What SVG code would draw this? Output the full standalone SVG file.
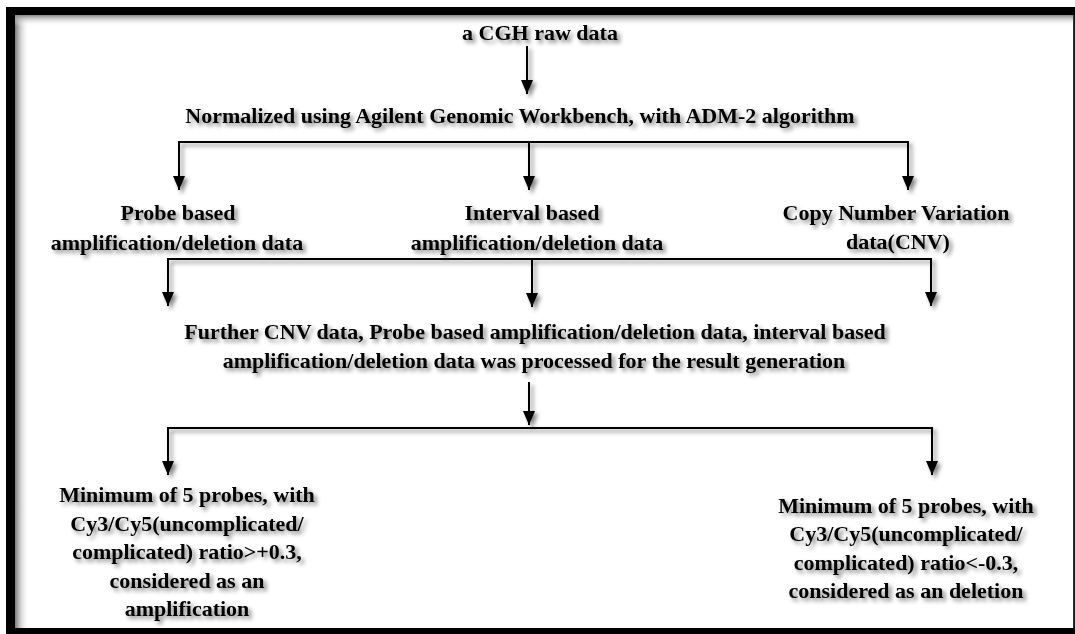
<svg xmlns="http://www.w3.org/2000/svg" width="1075" height="634" viewBox="0 0 1075 634">
  <defs>
    <style>
      .t { font-family: "Liberation Serif", "Times New Roman", serif; font-weight: bold; font-size: 22px; fill: #000; text-anchor: middle; }
      .ln { stroke: #000; stroke-width: 2; fill: none; }
    </style>
    <filter id="sh" x="-10%" y="-30%" width="120%" height="160%">
      <feGaussianBlur in="SourceAlpha" stdDeviation="2.2"/>
      <feOffset dx="3" dy="3" result="b"/>
      <feFlood flood-color="#000" flood-opacity="0.5"/>
      <feComposite in2="b" operator="in" result="s"/>
      <feMerge><feMergeNode in="s"/><feMergeNode in="SourceGraphic"/></feMerge>
    </filter>
    <marker id="ah" viewBox="0 0 14 12" refX="14" refY="6" markerWidth="14" markerHeight="12" markerUnits="userSpaceOnUse" orient="auto-start-reverse">
      <path d="M0,0 L14,6 L0,12 Z" fill="#000"/>
    </marker>
    <linearGradient id="gl" x1="0" y1="0" x2="1" y2="0">
      <stop offset="0" stop-color="#777"/>
      <stop offset="1" stop-color="#fff" stop-opacity="0"/>
    </linearGradient>
    <linearGradient id="gt" x1="0" y1="0" x2="0" y2="1">
      <stop offset="0" stop-color="#888"/>
      <stop offset="1" stop-color="#fff" stop-opacity="0"/>
    </linearGradient>
  </defs>

  <!-- frame -->
  <rect x="0" y="0" width="1075" height="634" fill="#fff"/>
  <rect x="6" y="7" width="1069" height="627" fill="#000"/>
  <rect x="15" y="15" width="1058" height="613" fill="#fff"/>
  <rect x="15" y="15" width="14" height="613" fill="url(#gl)"/>
  <rect x="15" y="15" width="1058" height="11" fill="url(#gt)"/>
  <rect x="1073" y="15" width="1.5" height="613" fill="#333"/>

  <g id="connectors" filter="url(#sh)">
    <!-- top arrow -->
    <path class="ln" d="M527,46 V94" marker-end="url(#ah)"/>
    <!-- level 1 split -->
    <path class="ln" d="M179,190 V142 H908 V190" marker-start="url(#ah)" marker-end="url(#ah)"/>
    <path class="ln" d="M529,142 V190" marker-end="url(#ah)"/>
    <!-- level 2 merge -->
    <path class="ln" d="M168,306 V259 H931 V306" marker-start="url(#ah)" marker-end="url(#ah)"/>
    <path class="ln" d="M532,259 V307" marker-end="url(#ah)"/>
    <!-- arrow to level 3 -->
    <path class="ln" d="M529,382 V425" marker-end="url(#ah)"/>
    <!-- level 3 split -->
    <path class="ln" d="M168,475 V428 H932 V475" marker-start="url(#ah)" marker-end="url(#ah)"/>
  </g>

  <g id="n-raw" filter="url(#sh)">
    <text class="t" x="540" y="40">a CGH raw data</text>
  </g>
  <g id="n-normalized" filter="url(#sh)">
    <text class="t" x="520" y="123">Normalized using Agilent Genomic Workbench, with ADM-2 algorithm</text>
  </g>
  <g id="n-probe" filter="url(#sh)">
    <text class="t" x="178" y="220">Probe based</text>
    <text class="t" x="177" y="250">amplification/deletion data</text>
  </g>
  <g id="n-interval" filter="url(#sh)">
    <text class="t" x="532" y="220">Interval based</text>
    <text class="t" x="537" y="250">amplification/deletion data</text>
  </g>
  <g id="n-cnv" filter="url(#sh)">
    <text class="t" x="896" y="220">Copy Number Variation</text>
    <text class="t" x="898" y="249">data(CNV)</text>
  </g>
  <g id="n-further" filter="url(#sh)">
    <text class="t" x="535" y="339">Further CNV data, Probe based amplification/deletion data, interval based</text>
    <text class="t" x="534" y="368">amplification/deletion data was processed for the result generation</text>
  </g>
  <g id="n-amplification" filter="url(#sh)">
    <text class="t" x="187" y="502">Minimum of 5 probes, with</text>
    <text class="t" x="187" y="531">Cy3/Cy5(uncomplicated/</text>
    <text class="t" x="187" y="559">complicated) ratio&gt;+0.3,</text>
    <text class="t" x="187" y="588">considered as an</text>
    <text class="t" x="187" y="616">amplification</text>
  </g>
  <g id="n-deletion" filter="url(#sh)">
    <text class="t" x="906" y="513">Minimum of 5 probes, with</text>
    <text class="t" x="906" y="541">Cy3/Cy5(uncomplicated/</text>
    <text class="t" x="906" y="570">complicated) ratio&lt;-0.3,</text>
    <text class="t" x="906" y="598">considered as an deletion</text>
  </g>
</svg>
